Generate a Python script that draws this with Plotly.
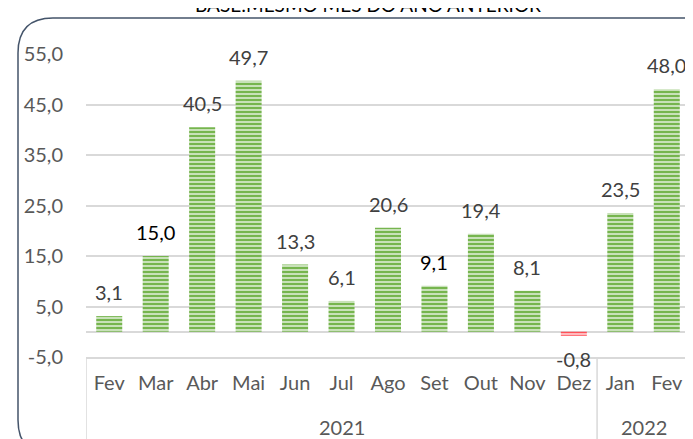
import plotly.graph_objects as go

years = ["2021"] * 11 + ["2022"] * 2
months = ["Fev", "Mar", "Abr", "Mai", "Jun", "Jul", "Ago", "Set", "Out", "Nov", "Dez", "Jan", "Fev"]
values = [3.1, 15.0, 40.5, 49.7, 13.3, 6.1, 20.6, 9.1, 19.4, 8.1, -0.8, 23.5, 48.0]
label_colors = ["#404040", "#000000", "#404040", "#404040", "#404040", "#404040", "#404040",
                "#000000", "#404040", "#404040", "#404040", "#404040", "#404040"]
title_text = "BASE:MESMO MÊS DO ANO ANTERIOR"
y_ticks = [-5, 5, 15, 25, 35, 45, 55]

FONT = "Lato, sans-serif"
FS = 20
green = "#76b54e"
red = "#ff5058"
fg = [red if v < 0 else green for v in values]
xs = list(range(len(months)))

def fmt(v):
    return f"{v:.1f}".replace(".", ",")

fig = go.Figure()
fig.add_trace(go.Bar(
    x=xs, y=values,
    marker=dict(color="white", line=dict(width=0),
                pattern=dict(shape="-", fgcolor=fg, bgcolor="white", fgopacity=1,
                             size=4, solidity=0.7)),
    hoverinfo="skip",
))

for x, v, c in zip(xs, values, label_colors):
    fig.add_annotation(
        x=x, xref="x", y=v, yref="y",
        text=fmt(v),
        showarrow=False,
        yanchor="bottom" if v >= 0 else "top",
        yshift=10 if v >= 0 else -9,
        font=dict(family=FONT, size=FS, color=c),
    )

W, H = 693, 439
L, R, T, B = 78, 11, 46, 90
pw, ph = W - L - R, H - T - B
def px(x): return (x - L) / pw
def py(y): return (H - B - y) / ph

# year group labels and dividers
groups = []
for i, yr in enumerate(years):
    if not groups or groups[-1][0] != yr:
        groups.append([yr, i, i])
    else:
        groups[-1][2] = i
for yr, a, b in groups:
    fig.add_annotation(x=(a + b) / 2, xref="x", y=py(419), yref="paper", yanchor="middle",
                       text=yr, showarrow=False, font=dict(family=FONT, size=FS, color="#595959"))
bounds = [groups[0][1] - 0.5] + [g[2] + 0.5 for g in groups]
for bx in bounds:
    fig.add_shape(type="line", xref="x", yref="paper", x0=bx, x1=bx, y0=0, y1=py(445),
                  line=dict(color="#d9d9d9", width=1.5))

# rounded chart border
path = (f"M {px(10)},{py(412)} Q {px(10)},{py(447)} {px(45)},{py(447)} "
        f"M {px(10)},{py(412)} L {px(10)},{py(45)} "
        f"Q {px(10)},{py(10)} {px(45)},{py(10)} L {px(710)},{py(10)}")
fig.add_shape(type="path", xref="paper", yref="paper", path=path,
              line=dict(color="#44546a", width=1.5))

fig.add_annotation(xref="paper", yref="paper", x=px(360), y=py(-3), yanchor="middle",
                   text=title_text, showarrow=False,
                   font=dict(family=FONT, size=19, color="#000000"))

fig.update_layout(
    width=W, height=H,
    margin=dict(l=L, r=R, t=T, b=B, autoexpand=False),
    paper_bgcolor="white", plot_bgcolor="white",
    showlegend=False,
    bargap=0.44,
    font=dict(family=FONT, size=FS, color="#595959"),
)
fig.update_yaxes(
    range=[-5, 55], tickvals=y_ticks, ticktext=[fmt(t) for t in y_ticks],
    showgrid=True, gridcolor="#d9d9d9", gridwidth=1.5,
    zeroline=True, zerolinecolor="#d9d9d9", zerolinewidth=1.5,
    ticks="", ticklabelstandoff=22, tickfont=dict(family=FONT, size=FS, color="#595959"),
    fixedrange=True,
)
fig.update_xaxes(
    range=[-0.5, len(months) - 0.5],
    tickvals=xs, ticktext=months,
    showline=True, linecolor="#d9d9d9", linewidth=1.5,
    showgrid=False, zeroline=False,
    tickfont=dict(family=FONT, size=FS, color="#595959"),
    ticks="", ticklabelstandoff=7, fixedrange=True,
)

fig.write_html("out.html")
